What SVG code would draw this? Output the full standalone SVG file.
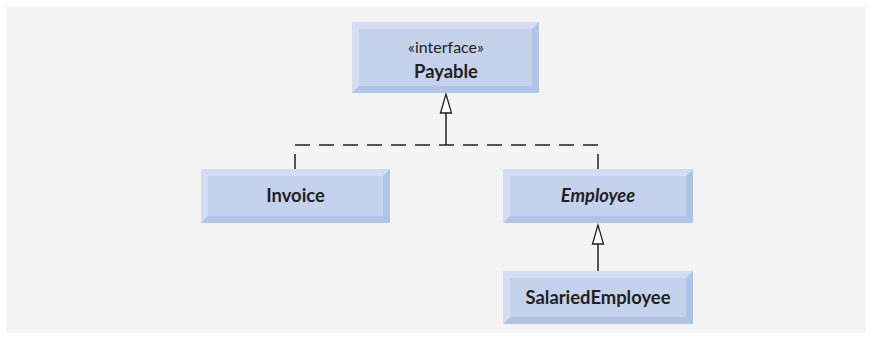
<svg xmlns="http://www.w3.org/2000/svg" width="873" height="341" viewBox="0 0 873 341">
<style>
.face{fill:#c4d2ec}
.lt{fill:#d4def2}
.dk{fill:#b1c4e7}
.t{font-family:Lato,"Open Sans",sans-serif;fill:#231f20;text-anchor:middle}
.b{font-weight:bold;font-size:18.4px}
.r{font-size:16px}
.ln{stroke:#231f20;stroke-width:1.5;fill:none}
.hd{fill:#ffffff;stroke:#231f20;stroke-width:1.3}
</style>
<rect width="873" height="341" fill="#ffffff"/>
<rect x="6" y="7" width="860" height="326" fill="#f4f4f4"/>
<g id="connectors">
<path class="ln" d="M295 169V145H598V169" stroke-dasharray="15 9"/>
<path class="ln" d="M446 113V145"/>
<polygon class="hd" points="446,94 440.5,113 451.5,113"/>
<path class="ln" d="M598 244V271"/>
<polygon class="hd" points="598,225 592.5,244 603.5,244"/>
</g>
<g id="payable">
<rect x="352" y="22" width="187" height="71" class="dk"/>
<polygon points="352,22 539,22 532,29 359,29 359,86 352,93" class="lt"/>
<rect x="359" y="29" width="173" height="57" class="face"/>
<text x="446" y="53" class="t r">«interface»</text>
<text x="446" y="78" class="t b">Payable</text>
</g>
<g id="invoice">
<rect x="201" y="169" width="189" height="54" class="dk"/>
<polygon points="201,169 390,169 383,176 208,176 208,216 201,223" class="lt"/>
<rect x="208" y="176" width="175" height="40" class="face"/>
<text x="295.5" y="202" class="t b">Invoice</text>
</g>
<g id="employee">
<rect x="503" y="169" width="190" height="54" class="dk"/>
<polygon points="503,169 693,169 686,176 510,176 510,216 503,223" class="lt"/>
<rect x="510" y="176" width="176" height="40" class="face"/>
<text x="598" y="202" class="t b" font-style="italic">Employee</text>
</g>
<g id="salariedEmployee">
<rect x="503" y="271" width="190" height="53" class="dk"/>
<polygon points="503,271 693,271 686,278 510,278 510,317 503,324" class="lt"/>
<rect x="510" y="278" width="176" height="39" class="face"/>
<text x="598" y="304" class="t b">SalariedEmployee</text>
</g>
</svg>
